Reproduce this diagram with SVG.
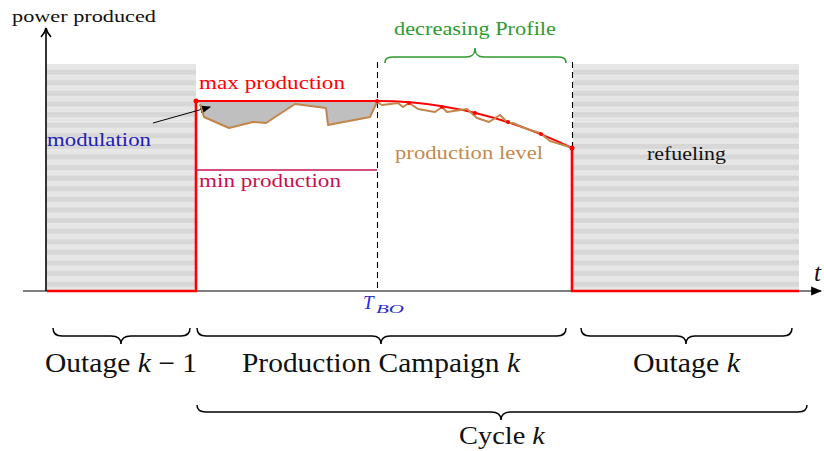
<svg xmlns="http://www.w3.org/2000/svg" width="824" height="451" viewBox="0 0 824 451">
<defs>
<pattern id="stripes" patternUnits="userSpaceOnUse" x="0" y="64" width="10" height="10.6">
<rect x="0" y="0" width="10" height="5.3" fill="#e6e6e6"/>
<rect x="0" y="5.3" width="10" height="5.3" fill="#d7d7d7"/>
</pattern>
<marker id="arrowFill" viewBox="0 0 10 10" refX="9" refY="5" markerWidth="11" markerHeight="11" markerUnits="userSpaceOnUse" orient="auto">
<path d="M0,1 L10,5 L0,9 Z" fill="#000"/>
</marker>
<marker id="arrowOpen" viewBox="0 0 12 12" refX="11" refY="6" markerWidth="12" markerHeight="12" markerUnits="userSpaceOnUse" orient="auto">
<path d="M2,1 Q6,5 11,6 Q6,7 2,11" fill="none" stroke="#000" stroke-width="1.6"/>
</marker>
</defs>
<style>
text{font-family:"Liberation Serif","DejaVu Serif","Times New Roman",serif;}
.it{font-style:italic;}
.brace{fill:none;stroke:#000;stroke-width:1.5;}
.dash{stroke:#000;stroke-width:1.1;stroke-dasharray:6 4;fill:none;}
.red{stroke:#ff0000;fill:none;}
.dot{fill:#ff0000;}
</style>
<g id="outage-prev-area">
<rect x="47" y="64" width="149" height="227" fill="url(#stripes)"/>
</g>
<g id="outage-area">
<rect x="573" y="64" width="226" height="227" fill="url(#stripes)"/>
<text font-family="Liberation Serif, DejaVu Serif, serif" x="647" y="160" font-size="18" textLength="79" lengthAdjust="spacingAndGlyphs" fill="#111">refueling</text>
</g>
<g id="modulation-area">
<polygon points="196,101 377,101 377,102 370,117 328,125 326,108 295,104 266,123 253,122 229,128 204,117 200,104" fill="#bfbfbf"/>
</g>
<g id="axes">
<line x1="23" y1="291" x2="821" y2="291" stroke="#000" stroke-width="1.1" marker-end="url(#arrowFill)"/>
<line x1="46" y1="291" x2="46" y2="28" stroke="#000" stroke-width="1.6" marker-end="url(#arrowOpen)"/>
<text font-family="Liberation Serif, DejaVu Serif, serif" x="12" y="22" font-size="17" textLength="144" lengthAdjust="spacingAndGlyphs" fill="#111">power produced</text>
<text font-family="Liberation Serif, DejaVu Serif, serif" font-style="italic" x="814" y="281" font-size="25" fill="#111">t</text>
</g>
<g id="connectors">
<line class="dash" x1="377.5" y1="62" x2="377.5" y2="291"/>
<line class="dash" x1="572.5" y1="62" x2="572.5" y2="150"/>
<polyline class="red" stroke-width="2.6" points="47,291 196,291 196,101"/>
<line class="red" stroke-width="2" x1="196" y1="101" x2="377" y2="101"/>
<line x1="196" y1="170" x2="377" y2="170" stroke="#c8104e" stroke-width="1.6"/>
<path class="red" stroke-width="2" d="M377,101 Q474.5,101 572,148"/>
<polyline class="red" stroke-width="2.6" points="572,148 572,291 799,291"/>
<line x1="153" y1="123" x2="210" y2="107" stroke="#000" stroke-width="1" marker-end="url(#arrowFill)"/>
<polyline fill="none" stroke="#c0864a" stroke-width="2" stroke-linejoin="round" points="200,104 204,117 229,128 253,122 266,123 295,104 326,108 328,125 370,117 377,102 382,105 398,103 403,107 409,103 418,109 435,112 442,107 447,112 467,109 477,118 489,122 500,115 508,123 513,123 527,129 540,133 550,141 573,148"/>
<circle class="dot" cx="196" cy="101" r="2.5"/>
<circle class="dot" cx="377" cy="101" r="2"/>
<circle class="dot" cx="409" cy="103" r="2"/>
<circle class="dot" cx="442" cy="107" r="2"/>
<circle class="dot" cx="475" cy="113" r="2"/>
<circle class="dot" cx="508" cy="122" r="2"/>
<circle class="dot" cx="541" cy="134" r="2"/>
<circle class="dot" cx="572" cy="148" r="2.5"/>
</g>
<g id="labels" font-family="Liberation Serif, DejaVu Serif, serif">
<text x="199" y="89" font-size="18.5" textLength="146" lengthAdjust="spacingAndGlyphs" fill="#ff0000">max production</text>
<text x="199" y="187" font-size="18.5" textLength="142" lengthAdjust="spacingAndGlyphs" fill="#c8104e">min production</text>
<text x="47" y="146" font-size="18.5" textLength="104" lengthAdjust="spacingAndGlyphs" fill="#2020b8">modulation</text>
<text x="395" y="159" font-size="18.5" textLength="148" lengthAdjust="spacingAndGlyphs" fill="#c48a4e">production level</text>
<text x="394" y="35" font-size="18.5" textLength="162" lengthAdjust="spacingAndGlyphs" fill="#2e9a2e">decreasing Profile</text>
<text fill="#2a2ad0"><tspan font-style="italic" x="363" y="309" font-size="19">T</tspan><tspan font-style="italic" x="376" y="313" font-size="13" textLength="28" lengthAdjust="spacingAndGlyphs">BO</tspan></text>
</g>
<g id="brace-profile">
<path fill="none" stroke="#2e9a2e" stroke-width="1.6" d="M385,63 C385,58 388,57 394,57 L466,57 C472,57 475,55 475,48 C475,55 478,57 484,57 L557,57 C563,57 566,58 566,63"/>
</g>
<g id="brace-outage-prev" font-family="Liberation Serif, DejaVu Serif, serif">
<path class="brace" d="M53,328 C53,333 56,336 62,336 L111,336 C117,336 121,338 121,344 C121,338 125,336 131,336 L181,336 C187,336 190,333 190,328"/>
<text x="45" y="372" font-size="27" textLength="152" lengthAdjust="spacingAndGlyphs" fill="#111">Outage <tspan font-style="italic">k</tspan> − 1</text>
</g>
<g id="brace-campaign" font-family="Liberation Serif, DejaVu Serif, serif">
<path class="brace" d="M197,328 C197,333 200,336 206,336 L372,336 C378,336 381,338 381,344 C381,338 384,336 390,336 L557,336 C563,336 566,333 566,328"/>
<text x="242" y="372" font-size="27" textLength="278" lengthAdjust="spacingAndGlyphs" fill="#111">Production Campaign <tspan font-style="italic">k</tspan></text>
</g>
<g id="brace-outage" font-family="Liberation Serif, DejaVu Serif, serif">
<path class="brace" d="M581,328 C581,333 584,336 590,336 L677,336 C683,336 686,338 686,344 C686,338 689,336 695,336 L783,336 C789,336 792,333 792,328"/>
<text x="633" y="372" font-size="27" textLength="107" lengthAdjust="spacingAndGlyphs" fill="#111">Outage <tspan font-style="italic">k</tspan></text>
</g>
<g id="brace-cycle" font-family="Liberation Serif, DejaVu Serif, serif">
<path class="brace" d="M197,405 C197,410 200,412 206,412 L491,412 C497,412 501,414 501,420 C501,414 505,412 511,412 L798,412 C804,412 807,410 807,405"/>
<text x="459" y="444" font-size="26" textLength="86" lengthAdjust="spacingAndGlyphs" fill="#111">Cycle <tspan font-style="italic">k</tspan></text>
</g>
</svg>
